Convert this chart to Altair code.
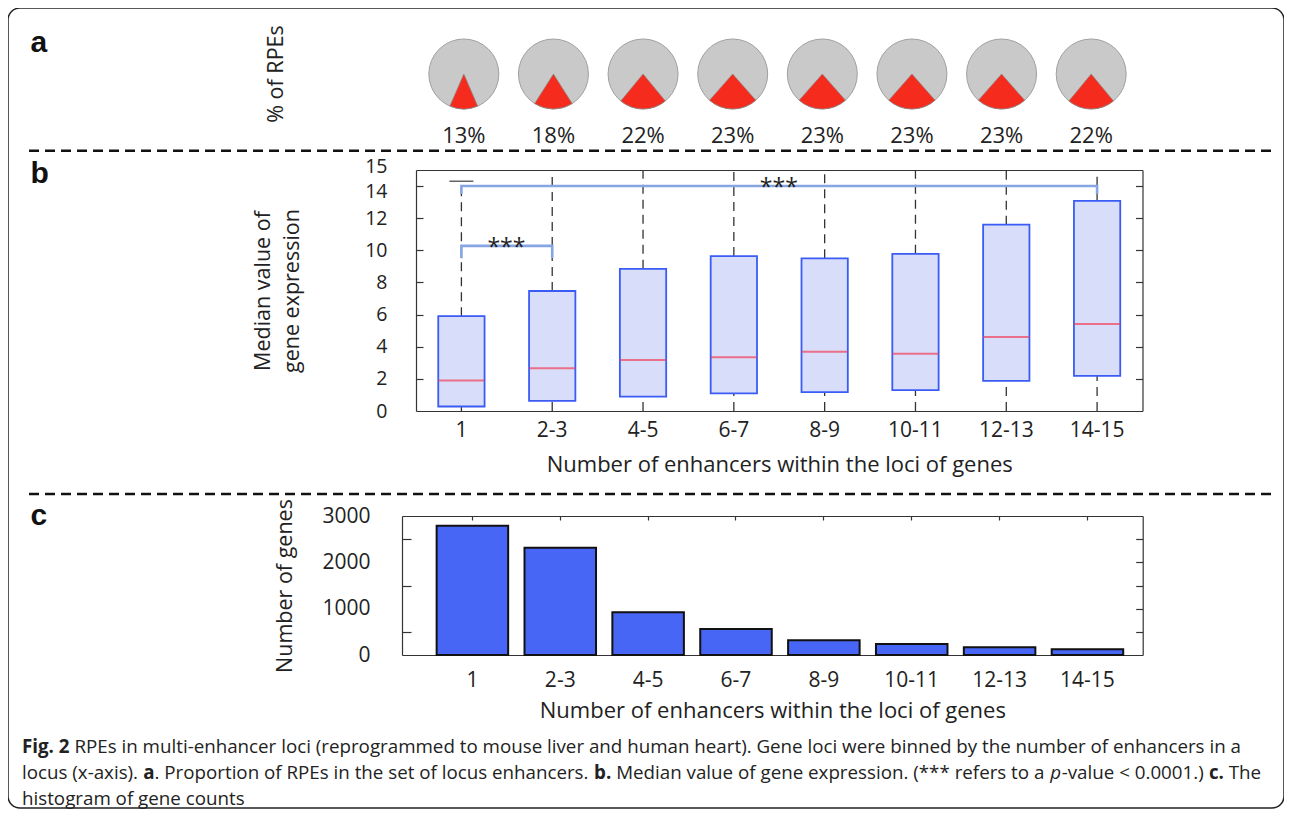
import os
import glob
import struct
import pandas as pd
import altair as alt

# ---------------------------------------------------------------- data
categories = ["1", "2-3", "4-5", "6-7", "8-9", "10-11", "12-13", "14-15"]

# panel a: % of RPEs
rpe_pct = [13, 18, 22, 23, 23, 23, 23, 22]

# panel b: median value of gene expression (box plot summaries)
box_q1 = [0.28, 0.63, 0.90, 1.10, 1.17, 1.30, 1.88, 2.19]
box_median = [1.90, 2.66, 3.18, 3.35, 3.68, 3.57, 4.61, 5.42]
box_q3 = [5.90, 7.47, 8.85, 9.64, 9.50, 9.78, 11.60, 13.08]
whisker_low = [0, 0, 0, 0, 0, 0, 0, 0]
whisker_high = [14.3, 15, 15, 15, 15, 15, 15, 15]
y_ticks_b = [0, 2, 4, 6, 8, 10, 12, 14, 15]
inner_ticks_b = [2, 4, 6, 8, 10, 12, 14]

# significance brackets
sig_from = ["1", "1"]
sig_to = ["2-3", "14-15"]
sig_top = [10.28, 14.0]
sig_leg = [9.5, 13.5]
sig_text = ["***", "***"]

# panel c: number of genes
gene_counts = [2790, 2316, 922, 561, 317, 237, 166, 123]
y_ticks_c = [0, 1000, 2000, 3000]
right_ticks_c = [500, 1000, 1500, 2000, 2500]
left_ticks_c = [500, 1500, 2500]

caption_lines = [
    [("Fig. 2", "b"),
     (" RPEs in multi-enhancer loci (reprogrammed to mouse liver and human heart). Gene loci were binned by the number of enhancers in a", "n")],
    [("locus (x-axis). ", "n"), ("a", "b"), (". Proportion of RPEs in the set of locus enhancers. ", "n"),
     ("b.", "b"), (" Median value of gene expression. (*** refers to a ", "n"), ("p", "i"),
     ("-value < 0.0001.) ", "n"), ("c.", "b"), (" The", "n")],
    [("histogram of gene counts", "n")],
]

FONT = "Open Sans"
W, H = 1276, 800


# ---------------------------------------------------------------- text metrics for caption
def _font_widths(path):
    with open(path, "rb") as fh:
        data = fh.read()
    num_tables = struct.unpack(">H", data[4:6])[0]
    tables = {}
    for i in range(num_tables):
        rec = data[12 + 16 * i: 28 + 16 * i]
        tables[rec[:4].decode("latin-1")] = struct.unpack(">I", rec[8:12])[0]
    head = tables["head"]
    upem = struct.unpack(">H", data[head + 18: head + 20])[0]
    hhea = tables["hhea"]
    n_hm = struct.unpack(">H", data[hhea + 34: hhea + 36])[0]
    hmtx = tables["hmtx"]
    adv = [struct.unpack(">H", data[hmtx + 4 * i: hmtx + 4 * i + 2])[0] for i in range(n_hm)]
    cmap = tables["cmap"]
    n_sub = struct.unpack(">H", data[cmap + 2: cmap + 4])[0]
    sub = None
    for i in range(n_sub):
        pid, eid, off = struct.unpack(">HHI", data[cmap + 4 + 8 * i: cmap + 12 + 8 * i])
        fmt = struct.unpack(">H", data[cmap + off: cmap + off + 2])[0]
        if fmt == 4:
            sub = cmap + off
            break
    seg2 = struct.unpack(">H", data[sub + 6: sub + 8])[0]
    n = seg2 // 2
    ends = struct.unpack(">%dH" % n, data[sub + 14: sub + 14 + seg2])
    starts = struct.unpack(">%dH" % n, data[sub + 16 + seg2: sub + 16 + 2 * seg2])
    deltas = struct.unpack(">%dh" % n, data[sub + 16 + 2 * seg2: sub + 16 + 3 * seg2])
    ro_pos = sub + 16 + 3 * seg2
    ros = struct.unpack(">%dH" % n, data[ro_pos: ro_pos + seg2])

    def gid(c):
        for i in range(n):
            if ends[i] >= c:
                if starts[i] > c:
                    return 0
                if ros[i] == 0:
                    return (c + deltas[i]) & 0xFFFF
                a = ro_pos + 2 * i + ros[i] + 2 * (c - starts[i])
                g = struct.unpack(">H", data[a: a + 2])[0]
                return (g + deltas[i]) & 0xFFFF if g else 0
        return 0

    def width(s):
        return sum(adv[min(gid(ord(ch)), n_hm - 1)] for ch in s) / upem

    return width


def _find_fonts():
    dirs = ["/usr/share/fonts", "/usr/local/share/fonts",
            os.path.expanduser("~/.fonts"), os.path.expanduser("~/.local/share/fonts")]
    files = []
    for d in dirs:
        files += glob.glob(os.path.join(d, "**", "OpenSans*"), recursive=True)
    files = [f for f in files if f.lower().endswith((".ttf", ".otf"))]
    reg = [f for f in files if "Regular" in os.path.basename(f)]
    bold = [f for f in files if os.path.basename(f).split(".")[0].endswith("-Bold")]
    anyf = [f for f in files if "Italic" not in f]
    return (sorted(reg) or sorted(anyf) or [None])[0], (sorted(bold) or [None])[0]


def _fallback(s):
    return sum(0.26 if ch == " " else 0.55 for ch in s)


try:
    _reg_path, _bold_path = _find_fonts()
    w_reg = _font_widths(_reg_path) if _reg_path else _fallback
    if _bold_path:
        w_bold = _font_widths(_bold_path)
    else:
        w_bold = lambda s: w_reg(s) * 1.06
except Exception:
    w_reg = _fallback
    w_bold = lambda s: _fallback(s) * 1.06


def seg_w(txt, kind):
    return w_bold(txt) if kind == "b" else w_reg(txt)


line1_em = sum(seg_w(t, k) for t, k in caption_lines[0])
cap_size = max(15.0, min(19.0, 1221.0 / line1_em)) if line1_em > 0 else 17.0

cap_rows = []
cap_x0, cap_y0, cap_dy = 14, 745, 26
for li, segs in enumerate(caption_lines):
    cx = 0.0
    for txt, kind in segs:
        lead = len(txt) - len(txt.lstrip(" "))
        cap_rows.append({"x": cap_x0 + (cx + w_reg(" " * lead)) * cap_size,
                         "y": cap_y0 + li * cap_dy, "t": txt.strip(" "), "k": kind})
        cx += seg_w(txt, kind)
cap_df = pd.DataFrame(cap_rows)

# ---------------------------------------------------------------- common styling
ax_style = dict(labelFont=FONT, labelFontSize=21, labelColor="#222", titleFont=FONT,
                titleFontSize=21.5, titleFontWeight="normal", titleColor="#222",
                domainColor="#333", domainWidth=1.2, tickColor="#333", tickWidth=1.2,
                labelOverlap=False, grid=False)
one = pd.DataFrame({"k": [0]})

# ---------------------------------------------------------------- panel a (pies)
pie_df = pd.DataFrame({"cat": categories, "pct": rpe_pct})
sx_a = alt.Scale(type="band", domain=categories, range=[411, 1128], paddingInner=0, paddingOuter=0)
x_a = alt.X("cat:N", scale=sx_a, axis=None)
pie_base = alt.Chart(pie_df).transform_calculate(
    t0="PI - datum.pct / 100 * PI", t1="PI + datum.pct / 100 * PI",
    g0="0", g1="2 * PI", lab="datum.pct + '%'")
pie_grey = pie_base.mark_arc(radius=35, fill="#c9c9c9", stroke="#a0a0a0", strokeWidth=1).encode(
    x=x_a, y=alt.value(66), theta=alt.Theta("g0:Q", scale=None, stack=None), theta2=alt.Theta2("g1"))
pie_red = pie_base.mark_arc(radius=35, fill="#f52b1d", stroke="#8a8a8a", strokeWidth=0.7).encode(
    x=x_a, y=alt.value(66), theta=alt.Theta("t0:Q", scale=None, stack=None), theta2=alt.Theta2("t1"))
pie_lab = pie_base.mark_text(font=FONT, fontSize=22, color="#222", baseline="middle").encode(
    x=x_a, y=alt.value(128), text="lab:N")
panel_a = alt.layer(pie_grey, pie_red, pie_lab)


# ---------------------------------------------------------------- panel b (box plot)
def sx_b():
    return alt.Scale(type="band", domain=categories, range=[408, 1134.5], paddingInner=0.49, paddingOuter=0.245)


def sy_b():
    return alt.Scale(domain=[0, 15], range=[403, 162], nice=False, zero=False)


box_df = pd.DataFrame({"cat": categories, "q1": box_q1, "med": box_median, "q3": box_q3,
                       "wlo": whisker_low, "whi": whisker_high})
box_base = alt.Chart(box_df)

whisk_up = box_base.mark_rule(color="#333", strokeDash=[9, 6], strokeWidth=1.3).encode(
    x=alt.X("cat:N", scale=sx_b(), axis=alt.Axis(orient="top", offset=-162, labels=False, ticks=False,
                                                  title=None, **ax_style)),
    y=alt.Y("q3:Q", scale=sy_b(), axis=alt.Axis(orient="left", offset=-1134.5, labels=False,
                                                 values=inner_ticks_b, tickSize=7, title=None, **ax_style)),
    y2="whi:Q")
whisk_lo = box_base.mark_rule(color="#333", strokeDash=[9, 6], strokeWidth=1.3).encode(
    x=alt.X("cat:N", scale=sx_b(), axis=None),
    y=alt.Y("wlo:Q", scale=sy_b(), axis=alt.Axis(orient="right", offset=-868, labels=False, domain=False,
                                                  values=inner_ticks_b, tickSize=7, title=None, **ax_style)),
    y2="q1:Q")
label_shift_b = {"condition": [{"test": "datum.value == 15", "value": -4},
                               {"test": "datum.value == 14", "value": 5}], "value": 0}
box = box_base.mark_bar(fill="#d8ddf9", stroke="#3a5cf5", strokeWidth=1.8).encode(
    x=alt.X("cat:N", scale=sx_b(), axis=alt.Axis(orient="bottom", offset=-397, ticks=False, labelPadding=8,
                                                  labelAngle=0, title="Number of enhancers within the loci of genes",
                                                  titlePadding=14, **{**ax_style, "titleFontSize": 22})),
    y=alt.Y("q1:Q", scale=sy_b(), axis=alt.Axis(orient="left", offset=-408, values=y_ticks_b, ticks=False,
                                                 labelPadding=29, labelOffset=label_shift_b,
                                                 title=["Median value of", "gene expression"],
                                                 titlePadding=61, titleLineHeight=29,
                                                 **{**ax_style, "labelFontSize": 19.5})),
    y2="q3:Q")
median = box_base.mark_tick(color="#f2415a", thickness=2, size=46).encode(
    x=alt.X("cat:N", scale=sx_b(), axis=None), y=alt.Y("med:Q", scale=sy_b(), axis=None))
cap = box_base.transform_filter("datum.whi < 15").mark_tick(color="#222", thickness=1.5, size=24).encode(
    x=alt.X("cat:N", scale=sx_b(), axis=None), y=alt.Y("whi:Q", scale=sy_b(), axis=None))

br_rows = []
star_rows = []
for i in range(len(sig_from)):
    pts = [(sig_from[i], sig_leg[i]), (sig_from[i], sig_top[i]), (sig_to[i], sig_top[i]), (sig_to[i], sig_leg[i])]
    for o, (c, v) in enumerate(pts):
        br_rows.append({"br": i, "o": o, "cat": c, "v": v})
    mid = (categories.index(sig_from[i]) + categories.index(sig_to[i])) // 2
    star_rows.append({"cat": categories[mid], "v": sig_top[i], "t": sig_text[i]})
br_df = pd.DataFrame(br_rows)
star_df = pd.DataFrame(star_rows)

brackets = alt.Chart(br_df).mark_line(color="#86a6e3", strokeWidth=2.6).encode(
    x=alt.X("cat:N", scale=sx_b(), axis=None), y=alt.Y("v:Q", scale=sy_b(), axis=None),
    detail="br:N", order="o:Q")
stars = alt.Chart(star_df).mark_text(font=FONT, fontSize=23, color="#222", baseline="alphabetic",
                                     dx=45, dy=9).encode(
    x=alt.X("cat:N", scale=sx_b(), axis=None), y=alt.Y("v:Q", scale=sy_b(), axis=None), text="t:N")

panel_b = alt.layer(whisk_up, whisk_lo, box, median, cap, brackets, stars).resolve_axis(
    x="independent", y="independent")


# ---------------------------------------------------------------- panel c (bar chart)
def sx_c():
    return alt.Scale(type="band", domain=categories, range=[394, 1134.7], paddingInner=0.186,
                     paddingOuter=0.308, align=0.64)


def sy_c():
    return alt.Scale(domain=[0, 3000], range=[647, 508], nice=False)


bar_df = pd.DataFrame({"cat": categories, "n": gene_counts})
bar_base = alt.Chart(bar_df)
frame_c1 = bar_base.mark_bar(opacity=0).encode(
    x=alt.X("cat:N", scale=sx_c(), axis=alt.Axis(orient="top", offset=-508, labels=False, ticks=False,
                                                  title=None, **ax_style)),
    y=alt.Y("n:Q", scale=sy_c(), axis=alt.Axis(orient="left", offset=-1134.7, labels=False,
                                                values=right_ticks_c, tickSize=7, title=None, **ax_style)))
frame_c2 = bar_base.mark_bar(opacity=0).encode(
    x=alt.X("cat:N", scale=sx_c(), axis=alt.Axis(orient="bottom", offset=-292, labels=False, domain=False,
                                                  tickSize=4, title=None, **ax_style)),
    y=alt.Y("n:Q", scale=sy_c(), axis=alt.Axis(orient="right", offset=-882, labels=False, domain=False,
                                                values=left_ticks_c, tickSize=9, title=None, **ax_style)))
bars = bar_base.mark_bar(fill="#4866f5", stroke="#111", strokeWidth=2).encode(
    x=alt.X("cat:N", scale=sx_c(), axis=alt.Axis(orient="bottom", offset=-153, ticks=False, labelPadding=14,
                                                  labelAngle=0, title="Number of enhancers within the loci of genes",
                                                  titlePadding=10, **{**ax_style, "titleFontSize": 22})),
    y=alt.Y("n:Q", scale=sy_c(), axis=alt.Axis(orient="left", offset=-394, values=y_ticks_c, format="d",
                                                ticks=False, labelPadding=32, title="Number of genes",
                                                titlePadding=25, **ax_style)))
panel_c = alt.layer(frame_c1, frame_c2, bars).resolve_axis(x="independent", y="independent")

# ---------------------------------------------------------------- decorations
dash1 = alt.Chart(one).mark_rule(strokeDash=[10, 6], strokeWidth=2.6, color="#111").encode(
    x=alt.value(21), x2=alt.value(1265), y=alt.value(142.7))
dash2 = alt.Chart(one).mark_rule(strokeDash=[10, 6], strokeWidth=2.6, color="#111").encode(
    x=alt.value(21), x2=alt.value(1265), y=alt.value(486))
lab_style = dict(font="Liberation Sans", fontSize=30, fontWeight="bold", color="#111",
                 align="left", baseline="alphabetic")
lab_a = alt.Chart(one).mark_text(**lab_style).encode(x=alt.value(22.5), y=alt.value(44), text=alt.value("a"))
lab_b = alt.Chart(one).mark_text(**lab_style).encode(x=alt.value(22.5), y=alt.value(175), text=alt.value("b"))
lab_c = alt.Chart(one).mark_text(**lab_style).encode(x=alt.value(22.5), y=alt.value(517), text=alt.value("c"))
rpe_title = alt.Chart(one).mark_text(font=FONT, fontSize=21.5, color="#222", angle=270,
                                     baseline="middle").encode(
    x=alt.value(268.7), y=alt.value(66), text=alt.value("% of RPEs"))


def cap_layer(kind, **kw):
    return alt.Chart(cap_df).transform_filter(alt.datum.k == kind).mark_text(
        font=FONT, fontSize=cap_size, color="#222", align="left", baseline="alphabetic", **kw).encode(
        x=alt.X("x:Q", scale=None, axis=None), y=alt.Y("y:Q", scale=None, axis=None), text="t:N")


cap_n = cap_layer("n")
cap_b = cap_layer("b", fontWeight="bold")
cap_i = cap_layer("i", fontStyle="italic")

chart = alt.layer(
    panel_a, panel_b, panel_c, dash1, dash2, lab_a, lab_b, lab_c, rpe_title, cap_n, cap_b, cap_i
).resolve_scale(x="independent", y="independent").properties(
    width=W, height=H, padding=0, background="white"
).configure_view(stroke="#222", strokeWidth=1.5, cornerRadius=12)

chart.save("out.html", embed_options={"renderer": "svg", "actions": False})
